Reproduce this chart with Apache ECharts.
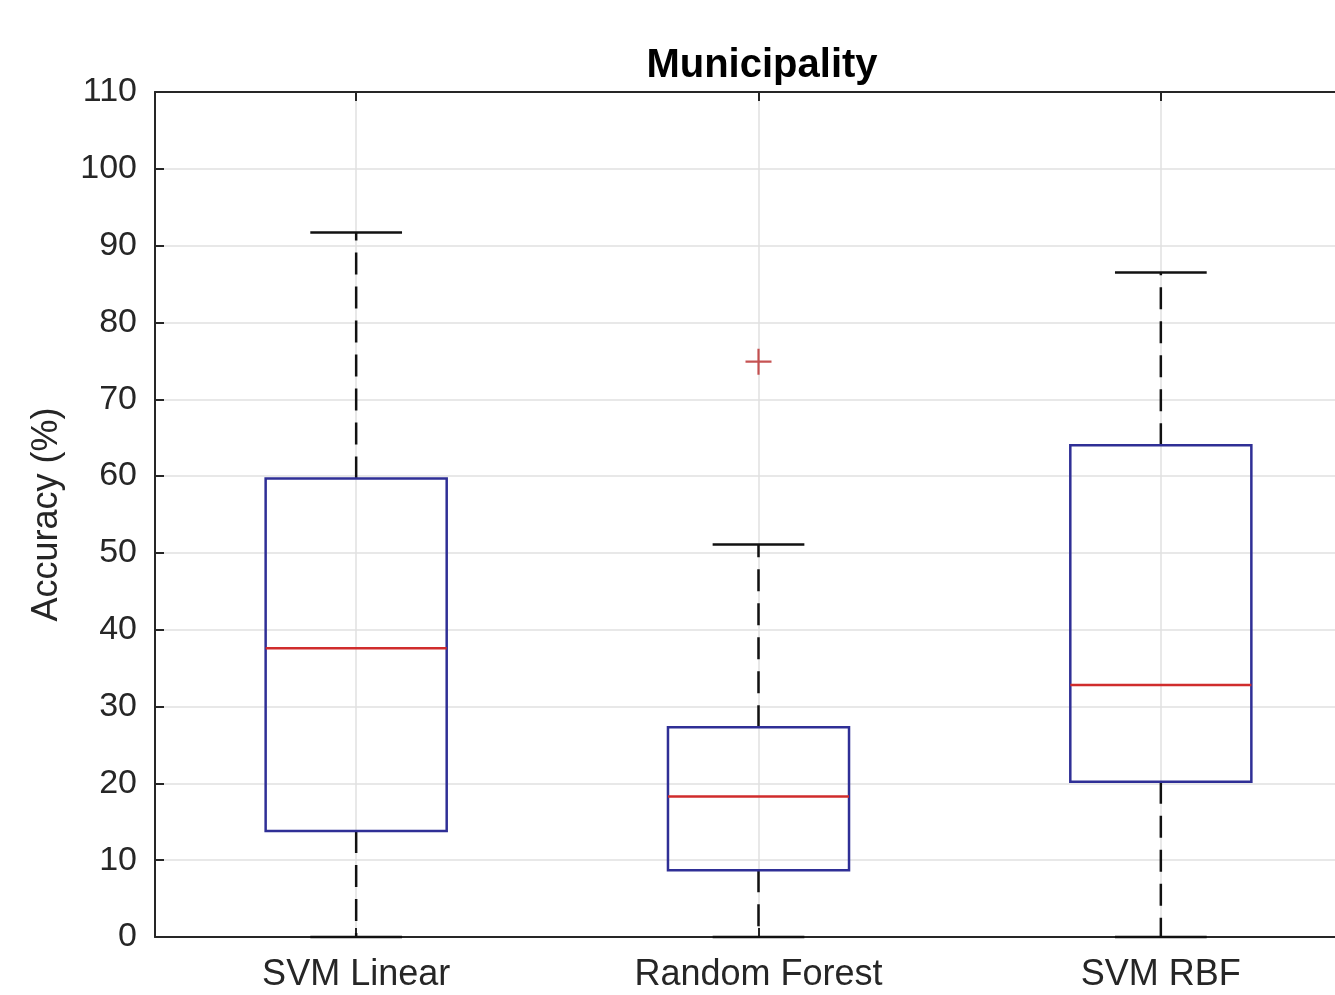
<!DOCTYPE html>
<html>
<head>
<meta charset="utf-8">
<title>Municipality</title>
<script src="https://cdn.jsdelivr.net/npm/echarts@6/dist/echarts.min.js"></script>
<style>
html, body { margin: 0; padding: 0; background: #fff; }
#main { width: 1335px; height: 995px; }
</style>
</head>
<body>
<div id="main"></div>
<script>
// box plot stats
var categories = ['SVM Linear', 'Random Forest', 'SVM RBF'];
var lowerWhisker = [0, 0, 0];
var q1 = [13.8, 8.7, 20.2];
var median = [37.6, 18.3, 32.8];
var q3 = [59.7, 27.3, 64.0];
var upperWhisker = [91.7, 51.1, 86.5];
var outliers = [[1, 74.9]]; // [category index, value]

var textColor = '#262626';
var gridColor = '#e0e0e0';
var boxColor = '#2f2f96';
var medianColor = '#d02c2c';

var boxData = [];
for (var i = 0; i < categories.length; i++) {
    boxData.push([i, lowerWhisker[i], q1[i], median[i], q3[i], upperWhisker[i]]);
}

function renderBox(params, api) {
    var idx = api.value(0);
    var band = api.size([1, 0])[0];
    var x = api.coord([idx, 0])[0];
    var half = band * 0.225;
    var capHalf = band * 0.114;
    var yLo = api.coord([idx, api.value(1)])[1];
    var yQ1 = api.coord([idx, api.value(2)])[1];
    var yMed = api.coord([idx, api.value(3)])[1];
    var yQ3 = api.coord([idx, api.value(4)])[1];
    var yHi = api.coord([idx, api.value(5)])[1];
    var dash = { stroke: '#111', lineWidth: 2.5, lineDash: [22, 12] };
    var solid = { stroke: '#111', lineWidth: 2.5 };
    return {
        type: 'group',
        children: [
            { type: 'line', shape: { x1: x, y1: yQ3, x2: x, y2: yHi }, style: dash },
            { type: 'line', shape: { x1: x, y1: yQ1, x2: x, y2: yLo }, style: dash },
            { type: 'line', shape: { x1: x - capHalf, y1: yHi, x2: x + capHalf, y2: yHi }, style: solid },
            { type: 'line', shape: { x1: x - capHalf, y1: yLo, x2: x + capHalf, y2: yLo }, style: solid },
            {
                type: 'rect',
                shape: { x: x - half, y: yQ3, width: half * 2, height: yQ1 - yQ3 },
                style: { fill: 'none', stroke: boxColor, lineWidth: 2.5 }
            },
            { type: 'line', shape: { x1: x - half, y1: yMed, x2: x + half, y2: yMed }, style: { stroke: medianColor, lineWidth: 2.5 } }
        ]
    };
}

var option = {
    backgroundColor: '#fff',
    animation: false,
    title: {
        text: 'Municipality',
        left: 757,
        textAlign: 'center',
        top: 41,
        textStyle: { fontFamily: 'Liberation Sans', fontSize: 40, fontWeight: 'bold', color: '#000' }
    },
    // right edge of the plot runs past the picture, as in the reference
    grid: { left: 155, top: 92, width: 1207, height: 845, outerBoundsMode: 'none', containLabel: false },
    xAxis: [
        {
            type: 'category',
            data: categories,
            boundaryGap: true,
            axisLine: { show: true, lineStyle: { color: textColor, width: 2 } },
            axisTick: { show: true, inside: true, alignWithLabel: true, length: 9, lineStyle: { color: textColor, width: 2 } },
            axisLabel: { fontFamily: 'Liberation Sans', fontSize: 36, color: textColor, margin: 20 },
            splitLine: { show: true, alignWithLabel: true, lineStyle: { color: gridColor, width: 1.5 } }
        },
        {
            type: 'category',
            position: 'top',
            data: categories,
            boundaryGap: true,
            axisLine: { show: true, lineStyle: { color: textColor, width: 2 } },
            axisTick: { show: true, inside: true, alignWithLabel: true, length: 9, lineStyle: { color: textColor, width: 2 } },
            axisLabel: { show: false },
            splitLine: { show: false }
        }
    ],
    yAxis: {
        type: 'value',
        min: 0,
        max: 110,
        interval: 10,
        name: 'Accuracy (%)',
        nameLocation: 'middle',
        nameGap: 90,
        nameTextStyle: { fontFamily: 'Liberation Sans', fontSize: 36, color: textColor },
        axisLine: { show: true, lineStyle: { color: textColor, width: 2 } },
        axisTick: { show: true, inside: true, length: 9, lineStyle: { color: textColor, width: 2 } },
        axisLabel: { fontFamily: 'Liberation Sans', fontSize: 34, color: textColor, margin: 18 },
        splitLine: { show: true, lineStyle: { color: gridColor, width: 1.5 } }
    },
    series: [
        {
            type: 'custom',
            renderItem: renderBox,
            encode: { x: 0, y: [1, 2, 3, 4, 5] },
            data: boxData,
            z: 3
        },
        {
            type: 'scatter',
            data: outliers,
            symbol: 'path://M0,10L20,10M10,0L10,20',
            symbolSize: 26,
            itemStyle: { color: 'none', borderColor: '#b82828', borderWidth: 2.2 },
            z: 4
        }
    ]
};

echarts.init(document.getElementById('main')).setOption(option);
</script>
</body>
</html>
